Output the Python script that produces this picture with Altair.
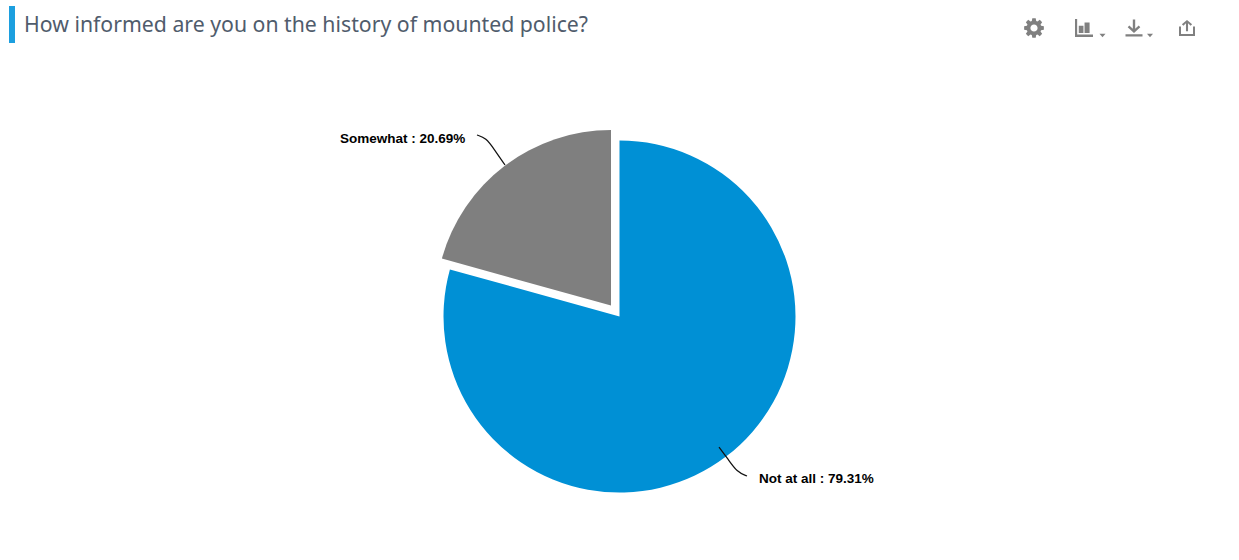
import math
import altair as alt
import pandas as pd

W, H = 1239, 560

# Survey answers
answers = ["Not at all", "Somewhat"]
shares = [79.31, 20.69]
colors = ["#0090d5", "#7f7f7f"]
title_text = "How informed are you on the history of mounted police?"

# Leader lines
leader_x = [[719, 728, 737, 747], [477, 486, 494, 505]]
leader_y = [[447, 459, 472, 476], [135, 138, 149, 165]]

theta_scale = alt.Scale(domain=[0, 100], range=[0, 2 * math.pi])
px_x = alt.Scale(domain=[0, W], range=[0, W])
px_y = alt.Scale(domain=[0, H], range=[0, H])


def slice_layer(i, start, cx, cy, radius):
    df = pd.DataFrame({"answer": [answers[i]], "start": [start], "end": [start + shares[i]]})
    return alt.Chart(df).mark_arc(radius=radius, color=colors[i]).encode(
        theta=alt.Theta("start:Q", scale=theta_scale),
        theta2="end:Q",
        x=alt.value(cx),
        y=alt.value(cy),
    )


def leader_layer(i):
    df = pd.DataFrame({"x": leader_x[i], "y": leader_y[i], "o": range(4)})
    return alt.Chart(df).mark_line(color="#111111", strokeWidth=1.25, interpolate="basis").encode(
        x=alt.X("x:Q", scale=px_x, axis=None),
        y=alt.Y("y:Q", scale=px_y, axis=None),
        order="o:Q",
    )


def text_layer(text, x, y, **kw):
    return alt.Chart(pd.DataFrame({"t": [text]})).mark_text(align="left", baseline="middle", **kw).encode(
        text="t:N", x=alt.value(x), y=alt.value(y)
    )


def icon_layer(path, x, y, box):
    return alt.Chart(pd.DataFrame({"i": [0]})).mark_point(
        shape=path, filled=True, opacity=1, color="#808080", size=box * box, strokeWidth=0
    ).encode(x=alt.value(x), y=alt.value(y))


def gear_path(teeth=8):
    pts = []
    step = 2 * math.pi / teeth
    for k in range(teeth):
        a = k * step
        for da, r in [(-0.30, 0.74), (-0.17, 1.0), (0.17, 1.0), (0.30, 0.74)]:
            pts.append((r * math.sin(a + da), -r * math.cos(a + da)))
    d = "M" + " L".join(f"{px:.3f} {py:.3f}" for px, py in pts) + " Z "
    # Centre hole, wound the other way round so it stays empty
    d += "M0 -0.36 A0.36 0.36 0 0 0 0 0.36 A0.36 0.36 0 0 0 0 -0.36 Z"
    return d


BARS = ("M-1 -1 L-0.76 -1 L-0.76 0.72 L1 0.72 L1 1 L-1 1 Z "
        "M-0.58 -0.25 L-0.06 -0.25 L-0.06 0.55 L-0.58 0.55 Z "
        "M0.06 -0.62 L0.62 -0.62 L0.62 0.55 L0.06 0.55 Z")
DOWNLOAD = ("M-0.14 -1 L0.14 -1 L0.14 0.1 L0.55 -0.3 L0.74 -0.1 L0 0.6 L-0.74 -0.1 L-0.55 -0.3 L-0.14 0.1 Z "
            "M-1 0.74 L1 0.74 L1 1 L-1 1 Z")
SHARE = ("M-0.13 0.4 L0.13 0.4 L0.13 -0.6 L0.45 -0.28 L0.64 -0.47 L0 -1 L-0.64 -0.47 L-0.45 -0.28 L-0.13 -0.6 Z "
         "M-1 -0.2 L-0.75 -0.2 L-0.75 0.75 L0.75 0.75 L0.75 -0.2 L1 -0.2 L1 1 L-1 1 Z")
CARET = "M-1 -0.6 L1 -0.6 L0 0.6 Z"

title_bar = alt.Chart(pd.DataFrame({"i": [0]})).mark_rect(color="#1c9fdf").encode(
    x=alt.value(9), x2=alt.value(15), y=alt.value(6), y2=alt.value(43)
)

chart = alt.layer(
    slice_layer(0, 0, 619.5, 316.5, 176),
    slice_layer(1, shares[0], 611, 305.5, 175.5),
    leader_layer(0),
    leader_layer(1),
    text_layer(f"{answers[1]} : {shares[1]:.2f}%", 340, 139, font="Liberation Sans", fontWeight="bold",
               fontSize=13.5, color="#000000"),
    text_layer(f"{answers[0]} : {shares[0]:.2f}%", 759, 479, font="Liberation Sans", fontWeight="bold",
               fontSize=13.5, color="#000000"),
    title_bar,
    text_layer(title_text, 24, 26, font="Noto Sans", fontSize=21.25, color="#505c6c"),
    icon_layer(gear_path(), 1034, 28, 20),
    icon_layer(BARS, 1084, 28, 18),
    icon_layer(CARET, 1102.5, 35.5, 6),
    icon_layer(DOWNLOAD, 1134, 28, 17),
    icon_layer(CARET, 1150, 35.5, 6),
    icon_layer(SHARE, 1187, 28, 16),
).properties(
    width=W, height=H, padding=0, autosize=alt.AutoSizeParams(type="none"),
    background="#ffffff",
).configure_view(stroke=None)

chart.save("out.html", embed_options={"renderer": "svg", "actions": False})
